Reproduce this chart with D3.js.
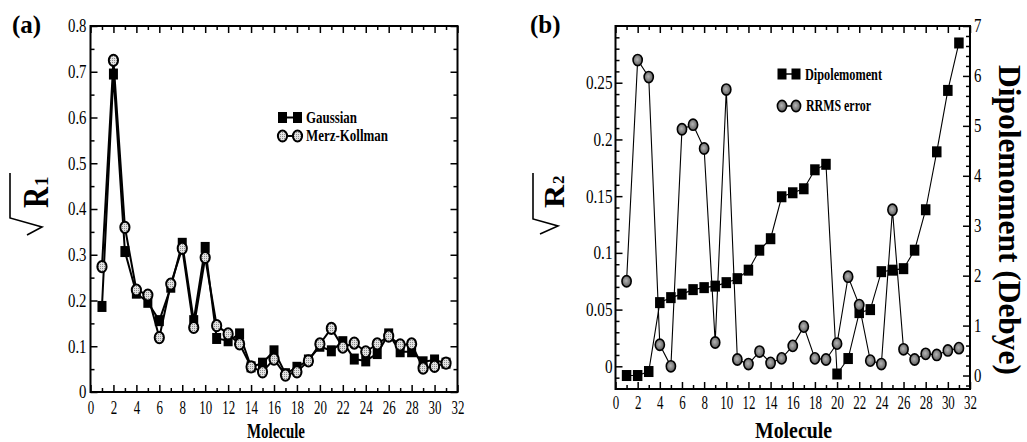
<!DOCTYPE html>
<html>
<head>
<meta charset="utf-8">
<script src="https://cdn.jsdelivr.net/npm/d3@7"></script>
<style>
body { margin: 0; background: #fff; }
svg { display: block; font-family: "Liberation Serif", "Times New Roman", serif; }
</style>
</head>
<body>
<svg id="chart" width="1027" height="442"></svg>
<script>
// molecule index, shared by both panels
const molecules = [1, 2, 3, 4, 5, 6, 7, 8, 9, 10, 11, 12, 13, 14, 15, 16, 17, 18, 19, 20, 21, 22, 23, 24, 25, 26, 27, 28, 29, 30, 31];

// panel (a)
const gaussian = [0.187, 0.695, 0.307, 0.216, 0.196, 0.156, 0.229, 0.325, 0.156, 0.316, 0.117, 0.112, 0.127, 0.055, 0.063, 0.090, 0.040, 0.054, 0.070, 0.100, 0.090, 0.110, 0.072, 0.068, 0.084, 0.127, 0.088, 0.088, 0.066, 0.070, 0.063];
const merzKollman = [0.274, 0.725, 0.360, 0.223, 0.212, 0.119, 0.236, 0.314, 0.141, 0.294, 0.145, 0.127, 0.105, 0.055, 0.044, 0.072, 0.037, 0.044, 0.068, 0.105, 0.139, 0.098, 0.107, 0.088, 0.105, 0.122, 0.103, 0.105, 0.052, 0.056, 0.063];

// panel (b)
const rrmsError = [0.075, 0.270, 0.255, 0.019, 0.000, 0.209, 0.213, 0.192, 0.021, 0.244, 0.006, 0.002, 0.013, 0.003, 0.007, 0.018, 0.035, 0.007, 0.006, 0.020, 0.079, 0.054, 0.005, 0.002, 0.138, 0.015, 0.006, 0.011, 0.010, 0.014, 0.016];
const dipoleMoment = [0.00, 0.00, 0.08, 1.46, 1.56, 1.63, 1.72, 1.76, 1.79, 1.86, 1.94, 2.11, 2.51, 2.74, 3.58, 3.66, 3.74, 4.12, 4.23, 0.03, 0.34, 1.26, 1.32, 2.08, 2.11, 2.14, 2.51, 3.32, 4.48, 5.71, 6.66];

// ticks
const xTicks = [0, 2, 4, 6, 8, 10, 12, 14, 16, 18, 20, 22, 24, 26, 28, 30, 32];
const yTicksA = [0, 0.1, 0.2, 0.3, 0.4, 0.5, 0.6, 0.7, 0.8];
const yLabelsA = ["0", "0.1", "0.2", "0.3", "0.4", "0.5", "0.6", "0.7", "0.8"];
const yTicksB = [0, 0.05, 0.1, 0.15, 0.2, 0.25];
const yLabelsB = ["0", "0.05", "0.1", "0.15", "0.2", "0.25"];
const dipoleTicks = [0, 1, 2, 3, 4, 5, 6, 7];

const svg = d3.select("#chart");

const defs = svg.append("defs");
const stipple = defs.append("pattern")
    .attr("id", "stipple")
    .attr("width", 2).attr("height", 2)
    .attr("patternUnits", "userSpaceOnUse");
stipple.append("rect").attr("width", 2).attr("height", 2).attr("fill", "#e2e2e2");
stipple.append("rect").attr("width", 1).attr("height", 1).attr("fill", "#8c8c8c");

const grad = defs.append("radialGradient").attr("id", "greyball")
    .attr("cx", "45%").attr("cy", "45%").attr("r", "60%");
grad.append("stop").attr("offset", "0%").attr("stop-color", "#b4b4b4");
grad.append("stop").attr("offset", "100%").attr("stop-color", "#555");

// draws one set of inward ticks on an axis; strips the domain line
const addTicks = (g, axis, tf, labelled, sx, textX) => {
    const a = g.append("g")
        .attr("transform", tf)
        .call(axis)
        .attr("font-family", null)
        .attr("font-size", 18.5);
    a.select(".domain").remove();
    a.selectAll(".tick line").attr("stroke", "#000").attr("stroke-width", 1.5);
    if (labelled) {
        a.selectAll(".tick text")
            .attr("fill", "#000")
            .attr("transform", `scale(${sx},1)`);
        if (textX !== undefined) a.selectAll(".tick text").attr("x", textX / sx);
    }
    return a;
};

const frame = (g, x, y) => {
    g.append("rect")
        .attr("x", x.range()[0]).attr("y", y.range()[1])
        .attr("width", x.range()[1] - x.range()[0])
        .attr("height", y.range()[0] - y.range()[1])
        .attr("fill", "none").attr("stroke", "#000").attr("stroke-width", 2);
};

const squares = (g, x, y, vals, w, h) => {
    g.selectAll(null).data(vals).join("rect")
        .attr("x", (d, i) => x(molecules[i]) - w / 2)
        .attr("y", d => y(d) - h / 2)
        .attr("width", w).attr("height", h)
        .attr("fill", "#000");
};

const circles = (g, x, y, vals, fill, sw) => {
    g.selectAll(null).data(vals).join("ellipse")
        .attr("cx", (d, i) => x(molecules[i]))
        .attr("cy", d => y(d))
        .attr("rx", 4.6).attr("ry", 5.6)
        .attr("fill", fill).attr("stroke", "#000").attr("stroke-width", sw);
};

const path = (g, x, y, vals, sw) => {
    g.append("path")
        .datum(vals)
        .attr("d", d3.line().x((d, i) => x(molecules[i])).y(d => y(d)))
        .attr("fill", "none").attr("stroke", "#000").attr("stroke-width", sw);
};

const xMinor = xTicks.slice(0, -1).map(d => d + 1);

// ---------- panel (a) ----------
const xA = d3.scaleLinear().domain([0, 32]).range([90.5, 457.5]);
const yA = d3.scaleLinear().domain([0, 0.8]).range([392, 26]);
const gA = svg.append("g");
const yMinorA = yTicksA.slice(0, -1).map(d => d + 0.05);

addTicks(gA, d3.axisBottom(xA).tickValues(xTicks).tickSize(-7).tickPadding(9).tickFormat(d => String(d)), `translate(0,${yA(0)})`, true, 0.7);
addTicks(gA, d3.axisBottom(xA).tickValues(xMinor).tickSize(-4).tickFormat(""), `translate(0,${yA(0)})`);
addTicks(gA, d3.axisTop(xA).tickValues(xTicks).tickSize(-7).tickFormat(""), `translate(0,${yA(0.8)})`);
addTicks(gA, d3.axisTop(xA).tickValues(xMinor).tickSize(-4).tickFormat(""), `translate(0,${yA(0.8)})`);
addTicks(gA, d3.axisLeft(yA).tickValues(yTicksA).tickSize(-7).tickPadding(4).tickFormat((d, i) => yLabelsA[i]), `translate(${xA(0)},0)`, true, 0.8, -4);
addTicks(gA, d3.axisLeft(yA).tickValues(yMinorA).tickSize(-4).tickFormat(""), `translate(${xA(0)},0)`);
addTicks(gA, d3.axisRight(yA).tickValues(yTicksA).tickSize(-7).tickFormat(""), `translate(${xA(32)},0)`);
addTicks(gA, d3.axisRight(yA).tickValues(yMinorA).tickSize(-4).tickFormat(""), `translate(${xA(32)},0)`);
frame(gA, xA, yA);

path(gA, xA, yA, gaussian, 2);
squares(gA, xA, yA, gaussian, 9, 11);
path(gA, xA, yA, merzKollman, 2);
circles(gA, xA, yA, merzKollman, "url(#stipple)", 2);

// legend (a)
const legA = gA.append("g").attr("font-weight", "bold").attr("font-size", 16);
legA.append("line").attr("x1", 282.5).attr("x2", 297.5).attr("y1", 117.5).attr("y2", 117.5).attr("stroke", "#000").attr("stroke-width", 2);
legA.selectAll(null).data([282.5, 297.5]).join("rect")
    .attr("x", d => d - 4.5).attr("y", 112).attr("width", 9).attr("height", 11).attr("fill", "#000");
legA.append("text").attr("x", 306).attr("y", 123).attr("textLength", 51).attr("lengthAdjust", "spacingAndGlyphs").text("Gaussian");
legA.append("line").attr("x1", 282.5).attr("x2", 297.5).attr("y1", 136).attr("y2", 136).attr("stroke", "#000").attr("stroke-width", 2);
legA.selectAll(null).data([282.5, 297.5]).join("ellipse")
    .attr("cx", d => d).attr("cy", 136).attr("rx", 4.6).attr("ry", 5.6)
    .attr("fill", "url(#stipple)").attr("stroke", "#000").attr("stroke-width", 2);
legA.append("text").attr("x", 306).attr("y", 141).attr("textLength", 82).attr("lengthAdjust", "spacingAndGlyphs").text("Merz-Kollman");

// ---------- panel (b) ----------
const xB = d3.scaleLinear().domain([0, 32]).range([615.5, 970]);
const yB = d3.scaleLinear().domain([-0.02, 0.3]).range([389, 26]);
const yD = d3.scaleLinear().domain([-0.27, 7]).range([389, 26]);
const gB = svg.append("g");
const yMinorB = d3.range(-1, 30).filter(i => i % 5 !== 0).map(i => i / 100);
const dMinor = d3.range(-1, 35).filter(i => i % 5 !== 0).map(i => i / 5);

addTicks(gB, d3.axisBottom(xB).tickValues(xTicks).tickSize(-7).tickPadding(7).tickFormat(d => String(d)), `translate(0,389)`, true, 0.7);
addTicks(gB, d3.axisBottom(xB).tickValues(xMinor).tickSize(-4).tickFormat(""), `translate(0,389)`);
addTicks(gB, d3.axisTop(xB).tickValues(xTicks).tickSize(-7).tickFormat(""), `translate(0,26)`);
addTicks(gB, d3.axisTop(xB).tickValues(xMinor).tickSize(-4).tickFormat(""), `translate(0,26)`);
addTicks(gB, d3.axisLeft(yB).tickValues(yTicksB).tickSize(-7).tickPadding(3).tickFormat((d, i) => yLabelsB[i]), `translate(${xB(0)},0)`, true, 0.82, -3);
addTicks(gB, d3.axisLeft(yB).tickValues(yMinorB).tickSize(-4).tickFormat(""), `translate(${xB(0)},0)`);
addTicks(gB, d3.axisRight(yD).tickValues(dipoleTicks).tickSize(-7).tickPadding(4).tickFormat(d => String(d)), `translate(${xB(32)},0)`, true, 0.8, 4);
addTicks(gB, d3.axisRight(yD).tickValues(dMinor).tickSize(-4).tickFormat(""), `translate(${xB(32)},0)`);
frame(gB, xB, yB);

path(gB, xB, yD, dipoleMoment, 1.1);
squares(gB, xB, yD, dipoleMoment, 9.5, 11);
path(gB, xB, yB, rrmsError, 1.1);
circles(gB, xB, yB, rrmsError, "url(#greyball)", 1.6);

// legend (b)
const legB = gB.append("g").attr("font-weight", "bold").attr("font-size", 16);
legB.append("line").attr("x1", 782).attr("x2", 796).attr("y1", 74).attr("y2", 74).attr("stroke", "#000").attr("stroke-width", 1.5);
legB.selectAll(null).data([782, 796]).join("rect")
    .attr("x", d => d - 4.5).attr("y", 68.5).attr("width", 9).attr("height", 11).attr("fill", "#000");
legB.append("text").attr("x", 805).attr("y", 80).attr("textLength", 77).attr("lengthAdjust", "spacingAndGlyphs").text("Dipolemoment");
legB.append("line").attr("x1", 782).attr("x2", 796).attr("y1", 106).attr("y2", 106).attr("stroke", "#000").attr("stroke-width", 1.5);
legB.selectAll(null).data([782, 796]).join("ellipse")
    .attr("cx", d => d).attr("cy", 106).attr("rx", 4.6).attr("ry", 5.6)
    .attr("fill", "url(#greyball)").attr("stroke", "#000").attr("stroke-width", 1.6);
legB.append("text").attr("x", 806).attr("y", 111).attr("textLength", 65).attr("lengthAdjust", "spacingAndGlyphs").text("RRMS error");

// ---------- titles / axis labels ----------
svg.append("text").attr("x", 12).attr("y", 33).attr("font-weight", "bold").attr("font-size", 25).text("(a)");
svg.append("text").attr("x", 530).attr("y", 33).attr("font-weight", "bold").attr("font-size", 25).text("(b)");

svg.append("text").attr("x", 276).attr("y", 438).attr("text-anchor", "middle")
    .attr("font-weight", "bold").attr("font-size", 20)
    .attr("textLength", 58).attr("lengthAdjust", "spacingAndGlyphs").text("Molecule");
svg.append("text").attr("x", 755).attr("y", 438)
    .attr("font-weight", "bold").attr("font-size", 24)
    .attr("textLength", 77).attr("lengthAdjust", "spacingAndGlyphs").text("Molecule");

svg.append("text")
    .attr("transform", "translate(999,65) rotate(90)")
    .attr("font-weight", "bold").attr("font-size", 31)
    .attr("textLength", 310).attr("lengthAdjust", "spacingAndGlyphs")
    .text("Dipolemoment (Debye)");

// rotated square-root labels: sqrt(R1), sqrt(R2)
const rootLabel = (cfg) => {
    const g = svg.append("g").attr("transform", `translate(${cfg.x0},${cfg.yb}) rotate(-90)`);
    g.append("path")
        .attr("d", `M${cfg.top},0 L${cfg.barEnd},0 L8,${cfg.vDepth} L0,${cfg.tick}`)
        .attr("fill", "none").attr("stroke", "#000").attr("stroke-width", 1.6);
    g.append("text").attr("x", cfg.rx).attr("y", cfg.base)
        .attr("font-weight", "bold").attr("font-size", cfg.rSize)
        .attr("textLength", cfg.rLen).attr("lengthAdjust", "spacingAndGlyphs")
        .text("R");
    g.append("text").attr("x", cfg.rx + cfg.rLen + 1).attr("y", cfg.base)
        .attr("font-weight", "bold").attr("font-size", cfg.subSize)
        .text(cfg.sub);
};
rootLabel({ x0: 10, yb: 235, top: 62, barEnd: 17, vDepth: 32, tick: 17, rx: 27, base: 38, rSize: 36, rLen: 21, subSize: 19, sub: "1" });
rootLabel({ x0: 533, yb: 234, top: 61, barEnd: 15, vDepth: 25, tick: 7, rx: 26, base: 31, rSize: 30, rLen: 23, subSize: 17, sub: "2" });
</script>
</body>
</html>
